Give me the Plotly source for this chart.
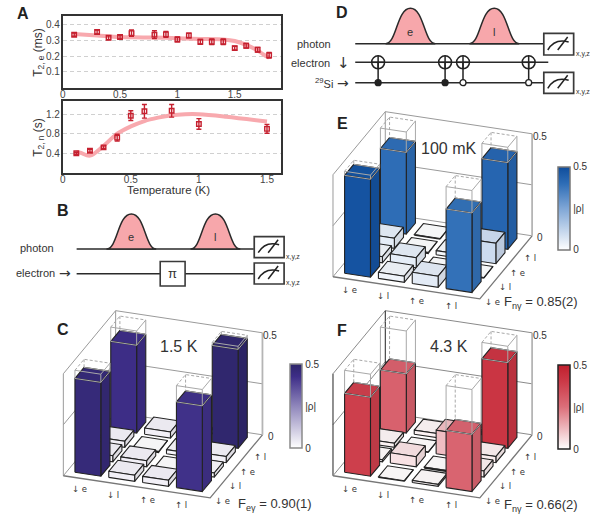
import plotly.graph_objects as go
from plotly.colors import sample_colorscale
import re

W, H = 603, 514
FONT = "Liberation Sans, Arial, sans-serif"
ARROWFONT = "DejaVu Sans, Liberation Sans, sans-serif"
TXT = "#333333"

# ---------- panel A data ----------
t_e = [0.1, 0.3, 0.4, 0.5, 0.6, 0.8, 0.9, 1.0, 1.1, 1.2, 1.3, 1.4, 1.5, 1.6, 1.7, 1.8]
t2e = [.335, .352, .316, .32, .345, .335, .337, .305, .33, .29, .29, .29, .25, .265, .24, .205]
t2e_err = [.01, .012, .012, .012, .02, .025, .018, .015, .015, .015, .018, .018, .012, .015, .015, .018]
fit_e_t = [0.1, 0.3, 0.5, 0.7, 0.9, 1.0, 1.2, 1.4, 1.5, 1.6, 1.7, 1.75, 1.8]
fit_e = [.34, .33, .32, .318, .315, .312, .308, .305, .295, .27, .235, .21, .19]

t_n = [0.1, 0.2, 0.3, 0.4, 0.5, 0.6, 0.8, 1.0, 1.5]
t2n = [.4, .45, .52, .72, 1.17, 1.26, 1.27, 1.0, .9]
t2n_err = [.02, .03, .03, .07, .1, .14, .13, .11, .09]
fit_n_t = [0.1, 0.13, 0.2, 0.3, 0.4, 0.5, 0.6, 0.7, 0.8, 0.9, 1.0, 1.2, 1.5]
fit_n = [.42, .41, .35, .55, .8, .95, 1.06, 1.13, 1.18, 1.2, 1.2, 1.15, 1.05]

# ---------- density-matrix data: rho[row][col] ----------
basis = ["↓ e", "↓ l", "↑ e", "↑ l"]
ideal = [[.5, 0, 0, .5], [0, 0, 0, 0], [0, 0, 0, 0], [.5, 0, 0, .5]]
rho_C = [[.46, .03, .03, .42],
         [.03, .03, .005, .02],
         [.03, .005, .02, .03],
         [.43, .03, .02, .485]]
rho_E = [[.48, .03, .055, .39],
         [.03, .05, .005, .003],
         [.05, .005, .02, .10],
         [.40, .003, .01, .425]]
rho_F = [[.387, .003, .01, .28],
         [.01, .05, .005, .03],
         [.02, .003, .115, .03],
         [.29, .02, .01, .42]]

scale_C = [[0, "#ffffff"], [0.5, "#8f86bb"], [0.85, "#3e2e88"], [1, "#2c2568"]]
scale_E = [[0, "#ffffff"], [0.5, "#7fa6d6"], [0.8, "#2e6db6"], [1, "#0f4d9c"]]
scale_F = [[0, "#ffffff"], [0.5, "#dc6f7a"], [0.8, "#cc3a48"], [1, "#c01f2d"]]

# oblique view of the floor, shared by the three bar panels
UX, UY = 34.0, 5.1
VX, VY = 12.0, -14.4
ZS = 204.0
BW = 0.765
FL_COL, FR_COL = -0.23, 4.11
B_ROW, T_ROW = -0.32, 4.06

fig = go.Figure()
shapes, annos = [], []


def txt(x, y, s, size=11, color=TXT, xa="center", ya="middle", fam=FONT, ref="x"):
    annos.append(dict(x=x, y=y, text=s, xref=ref, yref="y", showarrow=False,
                      font=dict(size=size, color=color, family=fam),
                      xanchor=xa, yanchor=ya, borderpad=0, borderwidth=0))


def seg(x0, y0, x1, y1, color=TXT, w=1.5, dash=None):
    shapes.append(dict(type="line", xref="x", yref="y", x0=x0, y0=y0, x1=x1, y1=y1,
                       line=dict(color=color, width=w, dash=dash), layer="above"))


def shade(c, f):
    r, g, b = [float(v) for v in re.findall(r"[\d.]+", c)[:3]]
    return f"rgb({r*f:.0f},{g*f:.0f},{b*f:.0f})"


def poly(xs, ys, fill, line="#222222", w=1.1):
    fig.add_trace(go.Scatter(x=xs + xs[:1], y=ys + ys[:1], mode="lines", fill="toself",
                             fillcolor=fill, line=dict(color=line, width=w),
                             hoverinfo="skip", showlegend=False, xaxis="x", yaxis="y"))


def wire(xs, ys, color="#a8a8a8", w=1.0, dash=None):
    fig.add_trace(go.Scatter(x=xs, y=ys, mode="lines", line=dict(color=color, width=w, dash=dash),
                             hoverinfo="skip", showlegend=False, xaxis="x", yaxis="y"))


def bars_panel(ox, oy, rho, scale, wall="#9a9a9a", vert="#9a9a9a", edge="#222222"):
    def P(c, r, z=0.0):
        return (ox + UX * c + VX * r, oy + UY * c + VY * r - ZS * z)

    def line3(pts, color=wall, w=1.0, dash=None):
        wire([P(*p)[0] for p in pts], [P(*p)[1] for p in pts], color, w, dash)

    # walls and floor
    a, b, t, u = FL_COL, FR_COL, T_ROW, B_ROW
    for z in (0.25, 0.5):
        line3([(a, u, z), (a, t, z), (b, t, z)])
    line3([(a, u, 0), (a, u, .5)], vert)
    line3([(a, t, 0), (a, t, .5)], vert)
    line3([(a, u, 0), (a, t, 0), (b, t, 0)])
    line3([(a, u, 0), (b, u, 0), (b, t, 0)], "#777777", 1.3)
    line3([(b, t, 0), (b, t, .5)], "#b5b5b5", 1.8)

    for r in (3, 2, 1, 0):
        for c in range(4):
            z = rho[r][c]
            col = sample_colorscale(scale, min(z / 0.5, 1), colortype="rgb")[0]
            c2, r2 = c + BW, r + BW
            # top, right and front faces
            pts = [P(c, r, z), P(c2, r, z), P(c2, r2, z), P(c, r2, z)]
            poly([p[0] for p in pts], [p[1] for p in pts], shade(col, 0.97), edge)
            pts = [P(c2, r, 0), P(c2, r2, 0), P(c2, r2, z), P(c2, r, z)]
            poly([p[0] for p in pts], [p[1] for p in pts], shade(col, 0.92), edge)
            pts = [P(c, r, 0), P(c2, r, 0), P(c2, r, z), P(c, r, z)]
            poly([p[0] for p in pts], [p[1] for p in pts], col, edge)
            zi = ideal[r][c]
            if zi:
                line3([(c, r, z), (c, r, zi), (c2, r, zi), (c2, r, z), (c, r, z)], "#a8a8a8")
                line3([(c2, r, z), (c2, r2, z), (c, r2, z)], "#a8a8a8")
                line3([(c2, r, zi), (c2, r2, zi), (c2, r2, z)], "#a8a8a8")
                line3([(c, r, zi), (c, r2, zi), (c2, r2, zi)], "#a8a8a8", 1.0, "3px,2px")
                line3([(c, r2, zi), (c, r2, z)], "#a8a8a8", 1.0, "3px,2px")

    # labels
    for i, s in enumerate(basis):
        txt(ox + 4.7 + 34 * i, oy + 16.9 + 5.3 * i, s, 8.5, fam=ARROWFONT)
        txt(ox + 148.4 + 12.5 * i, oy + 28.4 - 14.5 * i, s, 8.5, fam=ARROWFONT)
    txt(ox + 193.7, oy - 36, "0", 10, xa="left")
    txt(ox + 189, oy - 137, "0.5", 10, xa="left")


def colorbar(name, scale, x, y0, y1, outline):
    fig.add_trace(go.Scatter(
        x=[2], y=[2], mode="markers", xaxis="x", yaxis="y", showlegend=False, hoverinfo="skip",
        marker=dict(size=1, opacity=0, color=[0.25], coloraxis=name)))
    return dict(cmin=0, cmax=0.5, colorscale=scale, colorbar=dict(
        x=x / W, xanchor="left", xpad=0, y=1 - y0 / H, yanchor="top", ypad=0,
        len=(y1 - y0) / H, lenmode="fraction", thickness=12, thicknessmode="pixels",
        outlinecolor=outline, outlinewidth=1.5, ticks="", tickvals=[0, .25, .5],
        ticktext=["0", "|ρ|", "0.5"], tickfont=dict(size=10, color=TXT, family=FONT)))


def pulse(c, peak, base, hw, label):
    l, r = c - hw, c + hw
    p = (f"M {l},{base} C {l+hw*.45},{base} {c-hw*.55},{peak} {c},{peak} "
         f"C {c+hw*.55},{peak} {r-hw*.45},{base} {r},{base} Z")
    shapes.append(dict(type="path", xref="x", yref="y", path=p, fillcolor="#f7a7ab",
                       line=dict(color="#2a2a2a", width=1.5), layer="above"))
    txt(c, base - 12, label, 11)


def meter(x0, y0, x1, y1):
    shapes.append(dict(type="rect", xref="x", yref="y", x0=x0, y0=y0, x1=x1, y1=y1,
                       fillcolor="white", line=dict(color="#3a3a3a", width=1.7), layer="above"))
    cx = (x0 + x1) / 2
    yb = y1 - 5
    shapes.append(dict(type="path", xref="x", yref="y", line=dict(color="#222", width=1.5), layer="above",
                       path=f"M {cx-11},{yb} Q {cx-4},{yb-12} {cx+10},{yb-8}"))
    seg(cx - 1, yb, cx + 9, yb - 13, "#222", 1.5)
    txt(x1 + 2, y1 - 1, "x,y,z", 7, xa="left")


def cnot(x, yt, yc, filled):
    seg(x, yt, x, yc, "#222", 1.5)
    shapes.append(dict(type="circle", xref="x", yref="y", x0=x - 6.5, x1=x + 6.5, y0=yt - 6.5, y1=yt + 6.5,
                       fillcolor="rgba(0,0,0,0)", line=dict(color="#222", width=1.5), layer="above"))
    seg(x - 6.5, yt, x + 6.5, yt, "#222", 1.5)
    seg(x, yt - 6.5, x, yt + 6.5, "#222", 1.5)
    shapes.append(dict(type="circle", xref="x", yref="y", x0=x - 3, x1=x + 3, y0=yc - 3, y1=yc + 3,
                       fillcolor="#222" if filled else "white", line=dict(color="#222", width=1.3), layer="above"))


# ---------- panel A ----------
RED, PINK = "#c5202f", "#f8a9ae"
for xs, ys, ax in ((fit_e_t, fit_e, 2), (fit_n_t, fit_n, 3)):
    fig.add_trace(go.Scatter(x=xs, y=ys, mode="lines", line=dict(color=PINK, width=4, shape="spline"),
                             showlegend=False, xaxis=f"x{ax}", yaxis=f"y{ax}"))
for xs, ys, er, ax in ((t_e, t2e, t2e_err, 2), (t_n, t2n, t2n_err, 3)):
    fig.add_trace(go.Scatter(x=xs, y=ys, mode="markers", showlegend=False, xaxis=f"x{ax}", yaxis=f"y{ax}",
                             marker=dict(symbol="square-open", size=4.5, color=RED, line=dict(color=RED, width=1.4)),
                             error_y=dict(type="data", array=er, color=RED, thickness=1.4, width=2.5)))

# ---------- panels C, E, F ----------
bars_panel(72.3, 472.3, rho_C, scale_C)
bars_panel(343.3, 273.3, rho_E, scale_E)
bars_panel(343.3, 472.3, rho_F, scale_F, wall="#8a8a8a", vert="#222222")
ca1 = colorbar("coloraxis", scale_C, 288, 364, 448, "#8a8a8a")
ca2 = colorbar("coloraxis2", scale_E, 558, 166.7, 250, "#777777")
ca3 = colorbar("coloraxis3", scale_F, 558, 365, 449, "#222222")

txt(177, 346, "1.5 K", 16)
txt(448, 148, "100 mK", 16)
txt(448, 346, "4.3 K", 16)
txt(236, 504, "F<sub>eγ</sub> = 0.90(1)", 13, xa="left")
txt(503, 302, "F<sub>nγ</sub> = 0.85(2)", 13, xa="left")
txt(504, 505, "F<sub>nγ</sub> = 0.66(2)", 13, xa="left")

# ---------- panel B ----------
seg(74, 249, 252, 249, "#2a2a2a")
seg(74, 273.7, 252, 273.7, "#2a2a2a")
pulse(129, 214, 249, 25, "e")
pulse(213.5, 214, 249, 25, "l")
meter(252.5, 236.7, 282.5, 257.7)
meter(252.5, 263, 282.5, 284)
shapes.append(dict(type="rect", xref="x", yref="y", x0=158, x1=183, y0=261.5, y1=286, fillcolor="white",
                   line=dict(color="#3a3a3a", width=1.6), layer="above"))
txt(170.5, 273.5, "π", 13)
txt(34, 248, "photon", 11)
txt(52, 272.5, "electron", 11, xa="right")
txt(62, 273, "→", 14, fam=ARROWFONT)

# ---------- panel D ----------
seg(354, 43.7, 543, 43.7, "#2a2a2a")
seg(354, 62.3, 548, 62.3, "#2a2a2a")
seg(354, 82.7, 543, 82.7, "#2a2a2a")
pulse(409.5, 8.3, 43.7, 25, "e")
pulse(493.7, 8.3, 43.7, 25, "l")
meter(543.5, 33.3, 573.5, 55)
meter(543.5, 72.3, 573.5, 93.3)
cnot(377, 62.3, 82.7, True)
cnot(444.3, 62.3, 82.7, True)
cnot(462.3, 62.3, 82.7, False)
cnot(528.3, 62.3, 82.7, False)
txt(330, 44, "photon", 11, xa="right")
txt(329, 63, "electron", 11, xa="right")
txt(342.5, 63, "↓", 15, fam=ARROWFONT)
txt(332, 82.5, "<sup>29</sup>Si", 11, xa="right")
txt(342, 82.5, "→", 14, fam=ARROWFONT)

# ---------- panel letters ----------
NARROW = "Liberation Sans Narrow, Liberation Sans, Arial"
for (lx, ly, s) in ((20, 13, "A"), (60, 210, "B"), (60, 329, "C"), (341, 12, "D"), (341, 123, "E"), (341, 330, "F")):
    txt(lx, ly, f"<b>{s}</b>", 16, "#222", fam=NARROW)

txt(166, 190, "Temperature (K)", 11.5)
txt(36, 52, "T<sub>2, e</sub> (ms)", 12)
annos[-1]["textangle"] = -90
txt(36, 137, "T<sub>2, n</sub> (s)", 12)
annos[-1]["textangle"] = -90


def sub_axes(domx, domy, xr, yr, xt, xl, yt):
    tf = dict(size=10, color="#444444", family=FONT)
    fr = dict(showline=True, mirror=True, linecolor="#333333", linewidth=1.8, zeroline=False)
    xa = dict(domain=domx, range=xr, tickvals=xt, ticktext=xl, showgrid=False, tickfont=tf, ticklen=0, ticks="",
              ticklabelstandoff=-4, **fr)
    ya = dict(domain=domy, range=yr, tickvals=yt, showgrid=True, gridcolor="#d0d0d0", griddash="4px,3px",
              gridwidth=1, tickfont=tf, ticks="", ticklen=0, ticklabelstandoff=-1, **fr)
    return xa, ya


xa2, ya2 = sub_axes([60 / W, 279 / W], [1 - 87.7 / H, 1 - 15.7 / H], [0, 1.9], [0, 0.455],
                    [0, .5, 1, 1.5], ["0", "0.5", "1", "1.5"], [.1, .2, .3, .4])
xa3, ya3 = sub_axes([60 / W, 279 / W], [1 - 172.7 / H, 1 - 101.3 / H], [0, 1.6], [0, 1.465],
                    [0, .5, 1, 1.5], ["0", "0.5", "1", "1.5"], [.4, .8, 1.2])
ya2["tickformat"] = ".1f"
ya3["tickformat"] = ".1f"
xa2["anchor"] = "y2"; ya2["anchor"] = "x2"
xa3["anchor"] = "y3"; ya3["anchor"] = "x3"

fig.update_layout(
    width=W, height=H, autosize=False, margin=dict(l=0, r=0, t=0, b=0),
    paper_bgcolor="white", plot_bgcolor="rgba(0,0,0,0)", showlegend=False,
    font=dict(family=FONT, color=TXT),
    xaxis=dict(domain=[0, 1], range=[0, W], visible=False, fixedrange=True),
    yaxis=dict(domain=[0, 1], range=[H, 0], visible=False, fixedrange=True),
    xaxis2=xa2, yaxis2=ya2, xaxis3=xa3, yaxis3=ya3,
    coloraxis=ca1, coloraxis2=ca2, coloraxis3=ca3,
    shapes=shapes, annotations=annos,
)
fig.write_html("out.html", config=dict(displayModeBar=False),
               post_script="document.body.style.margin='0';document.documentElement.style.overflow='hidden';")
